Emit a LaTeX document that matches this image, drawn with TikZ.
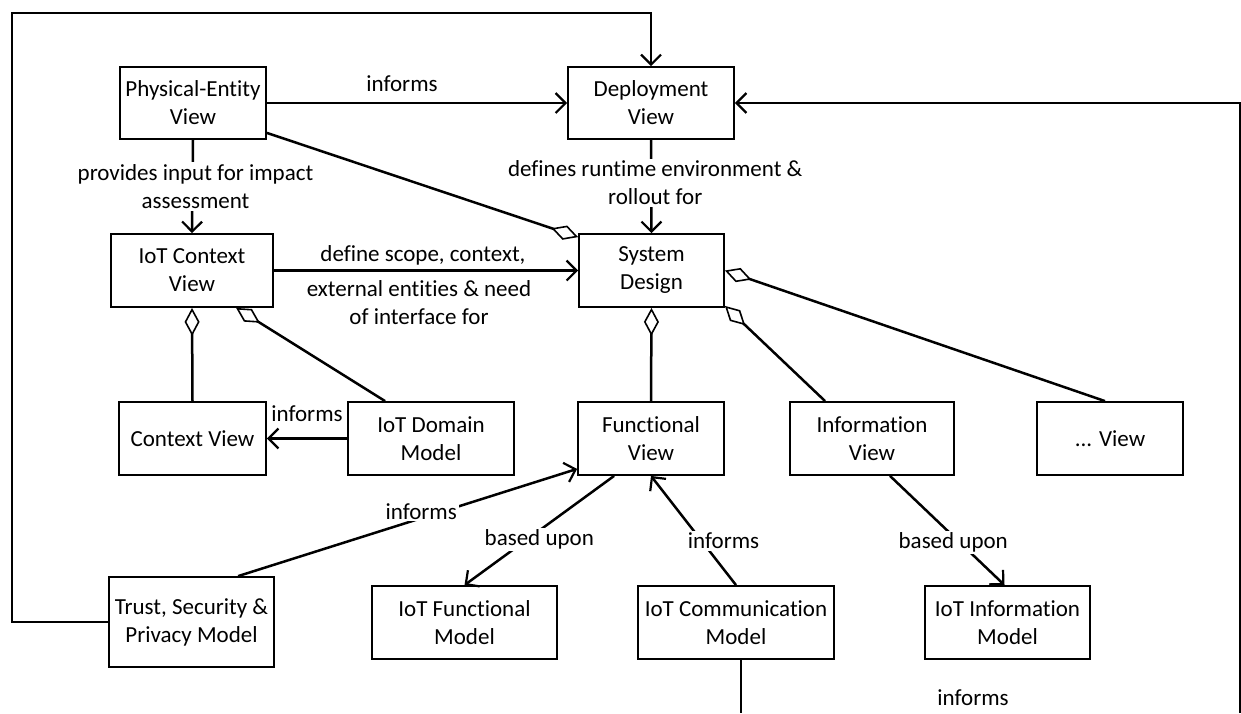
\documentclass[tikz,border=0pt]{standalone}
\usepackage{fontspec}
\setmainfont{Carlito}[Ligatures=NoCommon]
\usetikzlibrary{arrows.meta}
\begin{document}
\begin{tikzpicture}[x=1pt,y=-1pt,
  every node/.style={font=\fontsize{23}{28}\selectfont, align=center},
  box/.style={draw, line width=1.8pt, fill=white, inner sep=0pt},
  conn/.style={line width=2.5pt},
  arr/.style={conn, -{Straight Barb[length=10pt,width=20pt,line width=2.2pt]}},
  agg/.style={conn, {Diamond[open,length=28pt,width=15pt,line width=1.6pt]}-},
  lbl/.style={fill=white, inner sep=2pt},
  plain/.style={inner sep=2pt}
]
\useasboundingbox (0,0) rectangle (1241,713);

% views
\node[box, minimum width=146pt, minimum height=72pt] (pev) at (193,103) {Physical-Entity\\View};
\node[box, minimum width=166pt, minimum height=72pt] (dv) at (651,103) {Deployment\\View};
\node[box, minimum width=162pt, minimum height=73pt] (icv) at (192,270.5) {IoT Context\\View};
\node[box, minimum width=145pt, minimum height=73pt] (sd) at (651.5,270.5) {System\\Design};
\node[box, minimum width=147pt, minimum height=73pt] (cv) at (192.5,438.5) {Context View};
\node[box, minimum width=166pt, minimum height=73pt] (idm) at (431,438.5) {IoT Domain\\Model};
\node[box, minimum width=146pt, minimum height=73pt] (fv) at (651,438.5) {Functional\\View};
\node[box, minimum width=164pt, minimum height=73pt] (iv) at (872,438.5) {Information\\View};
\node[box, minimum width=146pt, minimum height=73pt] (ov) at (1110,438.5) {... View};

% models
\node[box, minimum width=165pt, minimum height=90pt] (tsp) at (191.5,622) {Trust, Security \&\\Privacy Model};
\node[box, minimum width=185pt, minimum height=73pt] (ifm) at (464.5,622.5) {IoT Functional\\Model};
\node[box, minimum width=196pt, minimum height=73pt] (icm) at (736,622.5) {IoT Communication\\Model};
\node[box, minimum width=165pt, minimum height=73pt] (iim) at (1007.5,622.5) {IoT Information\\Model};

% free ends of the long connectors
\coordinate (fbl) at (12,622);
\coordinate (fbt) at (12,13);
\coordinate (rb) at (1240.6,713);
\coordinate (cb) at (741,713);

% feedback from the trust model to the deployment view
\draw[arr] (tsp.west) -- (fbl) -- (fbt) -| (dv.north);
% incoming connector on the right
\draw[arr] (rb) |- (dv.east);

\draw[arr] (pev.east) -- node[plain, pos=.45, yshift=19pt] {informs} (dv.west);
\draw[arr] (pev.south) -- node[lbl, xshift=3pt] {provides input for impact\\assessment} (icv.north);
\draw[arr] (dv.south) -- node[lbl, xshift=4pt, yshift=3.5pt] {defines runtime environment \&\\rollout for} (sd.north);
\draw[agg] ([yshift=-4pt]sd.north west) -- ([yshift=7pt]pev.south east);

\draw[arr] (icv.east) -- node[plain, pos=.49, yshift=15.5pt] {define scope, context,}
  node[plain, pos=.477, yshift=-32.5pt] {external entities \& need\\of interface for} (sd.west);

\draw[agg] (icv.south) -- (cv.north);
\draw[agg] ([xshift=126pt]icv.south west) -- ([xshift=38pt]idm.north west);
\draw[arr] (idm.west) -- node[plain, yshift=24.5pt] {informs} (cv.east);

\draw[agg] (sd.south) -- (fv.north);
\draw[agg] ([yshift=2pt]sd.south east) -- ([xshift=36pt]iv.north west);
\draw[agg] (sd.east) -- ([xshift=-5pt]ov.north);

\draw[arr] ([xshift=130pt]tsp.north west) -- node[lbl, pos=.54, yshift=7pt] {informs} ([yshift=7pt]fv.south west);
\draw[arr] ([xshift=37pt]fv.south west) -- node[lbl, yshift=-9pt] {based upon} (ifm.north);
\draw[arr] (icm.north) -- node[lbl, xshift=30pt, yshift=-10pt] {informs} (fv.south);
\draw[arr] ([xshift=18pt]iv.south) -- node[lbl, xshift=6pt, yshift=-12pt] {based upon} ([xshift=-3pt]iim.north);

\draw[conn] ([xshift=5pt]icm.south) -- (cb);
\node[plain] (inf) at (973,698) {informs};
\end{tikzpicture}
\end{document}
